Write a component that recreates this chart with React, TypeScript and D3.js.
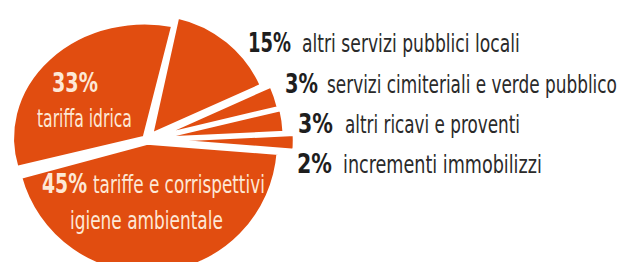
import React, { useEffect, useRef } from 'react';
import * as d3 from 'd3';

// quote percentuali dei ricavi
const categories = [
  'altri servizi pubblici locali',
  'servizi cimiteriali e verde pubblico',
  'altri ricavi e proventi',
  'incrementi immobilizzi',
  'tariffe e corrispettivi igiene ambientale',
  'tariffa idrica',
];
const values = [15, 3, 3, 2, 45, 33];
const pctLabels = ['15%', '3%', '3%', '2%', '45%', '33%'];

const App: React.FC = () => {
  const width = 624;
  const height = 262;
  const svgRef = useRef<SVGSVGElement>(null);

  useEffect(() => {
    if (!svgRef.current) return;
    const svg = d3.select(svgRef.current);
    svg.selectAll('*').remove();

    const cx = 147;
    const cy = 140;
    const fill = '#e14d10';
    const font = "'Liberation Sans Narrow', 'DejaVu Sans Condensed', 'Liberation Sans', sans-serif";

    // explode distance, outer radius, vertical squash per slice
    const explode = [6, 6, 6, 10, 2.5, 3];
    const radius = [122, 130, 132, 138, 132, 133];
    const squash = [1, 1, 1, 1, 1, 0.87];

    const start = (12.5 * Math.PI) / 180;
    const pie = d3.pie<number>().sort(null).value(d => d)
      .startAngle(start).endAngle(start + Math.PI * 2);
    const arcs = pie(values);

    arcs.forEach((a, i) => {
      const mid = (a.startAngle + a.endAngle) / 2;
      const ox = cx + explode[i] * Math.sin(mid);
      const oy = cy - explode[i] * Math.cos(mid);
      const arc = d3.arc<d3.PieArcDatum<number>>().innerRadius(0).outerRadius(radius[i]);
      svg.append('g')
        .attr('transform', `translate(${ox},${oy}) scale(1,${squash[i]})`)
        .append('path')
        .attr('d', arc(a) as string)
        .attr('fill', fill)
        .attr('stroke', '#fff')
        .attr('stroke-width', 4.5)
        .attr('stroke-linejoin', 'round')
        .attr('vector-effect', 'non-scaling-stroke');
    });

    // condensed text: measure, then squeeze horizontally to the wanted width
    const addText = (t: string, x: number, y: number, w: number, size: number, bold: boolean, color: string) => {
      const txt = svg.append('text')
        .attr('font-family', font)
        .attr('font-size', size)
        .attr('font-weight', bold ? 'bold' : 'normal')
        .attr('fill', color)
        .text(t);
      const len = (txt.node() as SVGTextElement).getComputedTextLength() || w;
      txt.attr('transform', `translate(${x},${y}) scale(${w / len},1)`);
    };

    // etichette a destra (fette piccole)
    const rightPos = [
      { x: 248, y: 52, pw: 43, dx: 302, dw: 218 },
      { x: 285, y: 93, pw: 33, dx: 327, dw: 290 },
      { x: 298, y: 133, pw: 35, dx: 345, dw: 175 },
      { x: 297, y: 173, pw: 35, dx: 343, dw: 199 },
    ];
    rightPos.forEach((p, i) => {
      addText(pctLabels[i], p.x, p.y, p.pw, 26, true, '#1e1e1e');
      addText(categories[i], p.dx, p.y, p.dw, 24, false, '#2a2a2a');
    });

    // etichette interne
    const cream = '#fde8d6';
    addText(pctLabels[5], 52, 92, 46, 26, true, cream);
    addText(categories[5], 37, 127, 95, 25, false, cream);
    addText(pctLabels[4], 42, 193, 45, 26, true, cream);
    addText('tariffe e corrispettivi', 93, 193, 172, 25, false, cream);
    addText('igiene ambientale', 70, 229, 153, 25, false, cream);
  }, []);

  return (
    <svg ref={svgRef} width={width} height={height}
      style={{ position: 'absolute', left: 0, top: 0, background: '#fff' }} />
  );
};

export default App;
